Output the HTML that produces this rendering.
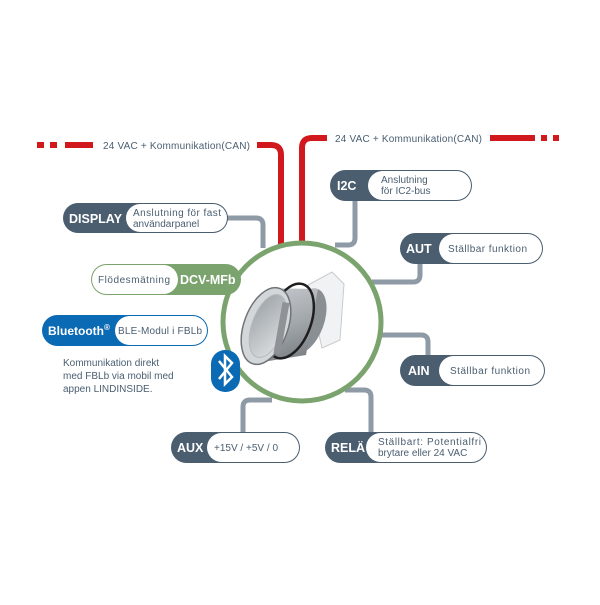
<!DOCTYPE html>
<html><head><meta charset="utf-8"><style>
body{margin:0;width:600px;height:600px;background:#fff;overflow:hidden}
svg text{font-family:"Liberation Sans",sans-serif}
</style></head><body>
<svg width="600" height="600" viewBox="0 0 600 600" xmlns="http://www.w3.org/2000/svg">
<defs>
<linearGradient id="cy" x1="0" y1="0" x2="0.3" y2="1">
<stop offset="0" stop-color="#c9ccd0"/><stop offset="0.6" stop-color="#a2a7ac"/><stop offset="1" stop-color="#80858a"/></linearGradient>
<linearGradient id="in" x1="0" y1="0" x2="1" y2="1">
<stop offset="0" stop-color="#9aa0a5"/><stop offset="1" stop-color="#dfe2e4"/></linearGradient>
</defs>
<g fill="#d0181d">
<rect x="37" y="142" width="7" height="6"/><rect x="50" y="142" width="7" height="6"/><rect x="65" y="142" width="28" height="6"/>
<rect x="490" y="135" width="45" height="6"/><rect x="541" y="135" width="6" height="6"/><rect x="553" y="135" width="6" height="6"/>
</g>
<g fill="none" stroke="#d0181d" stroke-width="6">
<path d="M257 145 H271 Q281 145 281 155 V245"/>
<path d="M327 138 H312 Q302 138 302 148 V242"/>
</g>
<text x="103" y="149" font-size="10" fill="#4a5e70" textLength="147">24 VAC + Kommunikation(CAN)</text>
<text x="335" y="142" font-size="10" fill="#4a5e70" textLength="147">24 VAC + Kommunikation(CAN)</text>
<g fill="none" stroke="#8e9aa6" stroke-width="5">
<path d="M226 218 H256 Q263 218 263 225 V248"/>
<path d="M355 200 V238 Q355 245 348 245 H335"/>
<path d="M420 263 V275 Q420 282 413 282 H372"/>
<path d="M380 335 H421 Q428 335 428 342 V356"/>
<path d="M371 432 V397 Q371 390 364 390 H345"/>
<path d="M243 432 V407 Q243 400 250 400 H272"/>
</g>
<circle cx="302" cy="322" r="79" fill="#fff" stroke="#7ba36e" stroke-width="5"/>
<!-- product -->
<g>
<path d="M308 285 L332 272 L344 284 L340 340 L322 348 Z" fill="#f1f2f3" stroke="#c8cbce" stroke-width="1"/>
<ellipse cx="306" cy="321" rx="18" ry="34" transform="rotate(20 306 321)" fill="#8a8f94"/>
<path d="M279.7 288.4 L318 289 L306 355 L252.3 363.6 Z" fill="url(#cy)"/>
<ellipse cx="290" cy="321" rx="21" ry="39" transform="rotate(20 290 321)" fill="none" stroke="#1e1e1e" stroke-width="2.5"/>
<ellipse cx="266" cy="326" rx="22" ry="40" transform="rotate(20 266 326)" fill="#d4d7da" stroke="#6f7479" stroke-width="1.5"/>
<ellipse cx="268" cy="326" rx="16" ry="33" transform="rotate(20 268 326)" fill="url(#in)" stroke="#b6babe" stroke-width="1"/>
<rect x="278" y="302" width="7" height="52" fill="#8f9397" transform="rotate(10 281 328)"/>
</g>
<rect x="63" y="203" width="165" height="30" rx="15" fill="#4a5e70"/>
<rect x="126" y="204" width="101" height="28" rx="14" fill="#fff"/>
<text x="69" y="223" font-size="12.5" font-weight="bold" fill="#fff">DISPLAY</text>
<text x="133" y="216" font-size="10" fill="#4a5e70" textLength="88">Anslutning för fast</text>
<text x="133" y="227" font-size="10" fill="#4a5e70">användarpanel</text>
<rect x="91" y="264" width="150" height="31" rx="15.5" fill="#7ba36e"/>
<rect x="92" y="265" width="86" height="29" rx="14.5" fill="#fff"/>
<text x="98" y="283" font-size="10" fill="#4a5e70" textLength="72">Flödesmätning</text>
<text x="180" y="284" font-size="12.5" font-weight="bold" fill="#fff">DCV-MFb</text>
<rect x="330" y="170" width="142" height="31" rx="15.5" fill="#4a5e70"/>
<rect x="368" y="171" width="103" height="29" rx="14.5" fill="#fff"/>
<text x="337" y="190" font-size="12.5" font-weight="bold" fill="#fff">I2C</text>
<text x="381" y="183" font-size="10" fill="#4a5e70">Anslutning</text>
<text x="381" y="194" font-size="10" fill="#4a5e70">för IC2-bus</text>
<rect x="400" y="233" width="143" height="31" rx="15.5" fill="#4a5e70"/>
<rect x="439" y="234" width="103" height="29" rx="14.5" fill="#fff"/>
<text x="406" y="253" font-size="12.5" font-weight="bold" fill="#fff">AUT</text>
<text x="448" y="252" font-size="10" fill="#4a5e70" textLength="79">Ställbar funktion</text>
<rect x="400" y="355" width="145" height="31" rx="15.5" fill="#4a5e70"/>
<rect x="439" y="356" width="105" height="29" rx="14.5" fill="#fff"/>
<text x="408" y="375" font-size="12.5" font-weight="bold" fill="#fff">AIN</text>
<text x="450" y="374" font-size="10" fill="#4a5e70" textLength="80">Ställbar funktion</text>
<rect x="171" y="432" width="129" height="31" rx="15.5" fill="#4a5e70"/>
<rect x="207" y="433" width="92" height="29" rx="14.5" fill="#fff"/>
<text x="177" y="452" font-size="12.5" font-weight="bold" fill="#fff">AUX</text>
<text x="214" y="451" font-size="10" fill="#4a5e70" textLength="64">+15V / +5V / 0</text>
<rect x="325" y="432" width="162" height="31" rx="15.5" fill="#4a5e70"/>
<rect x="366" y="433" width="120" height="29" rx="14.5" fill="#fff"/>
<text x="331" y="452" font-size="12.5" font-weight="bold" fill="#fff">RELÄ</text>
<text x="378" y="445" font-size="10" fill="#4a5e70" textLength="103">Ställbart: Potentialfri</text>
<text x="378" y="456" font-size="10" fill="#4a5e70">brytare eller 24 VAC</text>
<rect x="42" y="315" width="166" height="31" rx="15.5" fill="#0b6ab4"/>
<rect x="115" y="316" width="92" height="29" rx="14.5" fill="#fff"/>
<text x="48" y="335" font-size="12" font-weight="bold" fill="#fff">Bluetooth<tspan font-size="8" dy="-5">®</tspan></text>
<text x="118" y="334" font-size="10" fill="#4a5e70" textLength="84">BLE-Modul i FBLb</text>
<text x="63" y="366" font-size="10" fill="#4a5e70">Kommunikation direkt</text>
<text x="63" y="379" font-size="10" fill="#4a5e70">med FBLb via mobil med</text>
<text x="63" y="392" font-size="10" fill="#4a5e70">appen LINDINSIDE.</text>
<rect x="211" y="350" width="29" height="42" rx="14" fill="#0b6ab4"/>
<path d="M219 361 L232 377 L225 384 V356 L232 363 L219 379" fill="none" stroke="#fff" stroke-width="2.5"/>
</svg>
</body></html>
